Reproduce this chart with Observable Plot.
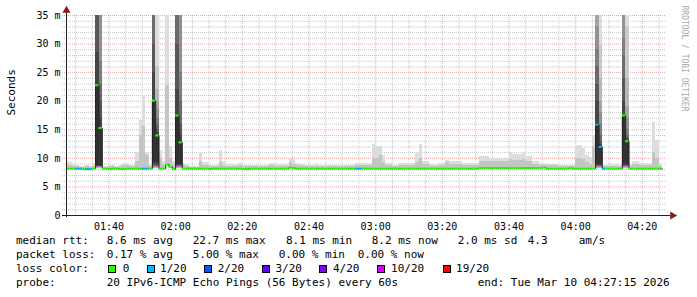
<!DOCTYPE html>
<html>
<head>
<meta charset="utf-8">
<script src="https://cdn.jsdelivr.net/npm/d3@7"></script>
<script src="https://cdn.jsdelivr.net/npm/@observablehq/plot@0.6"></script>
<style>
html,body{margin:0;padding:0;background:#fff;}
#wrap{position:relative;width:697px;height:297px;overflow:hidden;background:#fff;}
#wrap svg{display:block;position:absolute;left:0;top:0;}
.lg{position:absolute;font-family:"DejaVu Sans Mono",monospace;font-size:11px;line-height:14px;white-space:pre;color:#000;}
.bx{position:absolute;width:6px;height:6px;border:1px solid #000;}
</style>
</head>
<body>
<div id="wrap"></div>
<script>
// ---------- DATA ----------
// one column per minute, first column starts 01:27 (index 0), last 04:25
const median = [
  8.2, 8.2, 8.2, 8.2, 8.2, 8.1, 8.1, 8.1, 8.2, 22.8,
  15.3, 8.2, 8.2, 8.1, 8.2, 8.2, 8.1, 8.1, 8.2, 8.2,
  8.2, 8.2, 8.2, 8.2, 8.2, 8.2, 20.1, 14.0, 8.2, 8.2,
  8.9, 8.5, 8.1, 17.5, 12.8, 8.2, 8.2, 8.2, 8.2, 8.2,
  8.2, 8.2, 8.2, 8.1, 8.2, 8.2, 8.2, 8.2, 8.2, 8.2,
  8.2, 8.2, 8.2, 8.1, 8.1, 8.2, 8.2, 8.2, 8.2, 8.2,
  8.2, 8.2, 8.2, 8.2, 8.2, 8.2, 8.2, 8.4, 8.3, 8.2,
  8.2, 8.2, 8.2, 8.2, 8.2, 8.2, 8.2, 8.2, 8.2, 8.2,
  8.2, 8.2, 8.2, 8.2, 8.2, 8.2, 8.2, 8.2, 8.2, 8.2,
  8.2, 8.2, 8.2, 8.2, 8.2, 8.2, 8.2, 8.2, 8.2, 8.2,
  8.2, 8.2, 8.2, 8.2, 8.2, 8.2, 8.2, 8.2, 8.2, 8.2,
  8.2, 8.2, 8.2, 8.2, 8.2, 8.2, 8.2, 8.2, 8.2, 8.2,
  8.2, 8.2, 8.2, 8.2, 8.3, 8.3, 8.3, 8.3, 8.3, 8.3,
  8.3, 8.3, 8.3, 8.3, 8.3, 8.3, 8.3, 8.3, 8.3, 8.3,
  8.3, 8.3, 8.3, 8.4, 8.2, 8.2, 8.2, 8.2, 8.2, 8.2,
  8.2, 8.3, 8.2, 8.2, 8.2, 8.2, 8.2, 8.2, 8.2, 15.9,
  12.0, 8.2, 8.2, 8.2, 8.2, 8.2, 8.2, 17.5, 13.0, 8.2,
  8.2, 8.2, 8.2, 8.2, 8.2, 8.2, 8.2, 8.2, 8.2
];
// lost pings out of 20
const loss = [
  0,0,0,1,1,0,1,1,0,0,
  0,0,0,0,0,0,0,0,0,0,
  0,0,0,1,1,0,0,0,0,0,
  0,0,0,0,0,0,0,0,0,0,
  0,0,0,0,0,0,0,0,0,0,
  0,0,0,0,0,0,0,0,0,0,
  0,0,0,0,0,0,0,0,0,0,
  0,0,0,0,0,0,0,0,0,0,
  0,0,0,0,0,0,0,1,1,0,
  0,0,0,0,0,0,0,0,0,0,
  0,0,0,0,0,0,0,0,0,0,
  0,0,0,0,0,0,0,0,0,0,
  0,0,0,0,0,0,0,0,0,0,
  0,0,0,0,0,0,0,0,0,0,
  0,0,0,0,0,0,0,0,0,0,
  0,0,0,0,0,0,0,0,0,1,
  1,1,0,0,0,0,0,0,0,0,
  0,0,0,0,0,0,0,0,0
];
// slowest ping of each minute (top of light smoke)
const smokeTop = [
  9.5, 9.2, 8.9, 8.8, 8.6, 8.6, 8.8, 8.6, 9.0, 120,
  100, 8.6, 8.6, 8.8, 8.8, 8.6, 8.7, 9.1, 9.1, 8.7,
  8.8, 11.1, 16.6, 21.0, 11.1, 8.8, 110, 40, 11.4, 9.5,
  40, 12.0, 9.5, 100, 90, 9.1, 8.9, 8.6, 8.6, 8.6,
  10.8, 9.3, 9.3, 8.7, 8.7, 8.7, 11.3, 9.4, 9.0, 8.9,
  8.9, 8.9, 9.1, 8.7, 8.7, 8.7, 8.7, 8.7, 8.7, 8.7,
  8.7, 9.1, 9.1, 8.9, 8.9, 8.9, 8.9, 10.0, 9.8, 9.1,
  9.0, 9.0, 8.7, 8.7, 8.7, 8.9, 8.7, 8.7, 8.7, 8.7,
  8.7, 8.7, 8.8, 8.8, 8.8, 8.8, 8.8, 9.1, 9.1, 9.1,
  9.1, 9.1, 12.5, 12.0, 12.0, 10.5, 9.1, 9.1, 8.7, 8.7,
  9.1, 9.1, 9.1, 9.1, 9.1, 10.8, 12.5, 9.4, 9.4, 8.9,
  8.9, 8.9, 9.1, 9.1, 9.6, 9.4, 9.4, 9.4, 9.4, 9.1,
  9.1, 9.1, 9.1, 9.1, 10.3, 10.3, 10.3, 10.0, 10.0, 10.0,
  10.0, 10.0, 10.0, 11.1, 10.7, 10.7, 10.7, 11.1, 10.3, 10.3,
  9.4, 9.4, 9.1, 9.1, 9.0, 9.0, 9.0, 9.0, 8.7, 8.7,
  8.7, 8.7, 8.7, 12.2, 12.2, 11.7, 10.5, 10.2, 14.0, 80,
  40, 8.8, 8.8, 9.0, 9.0, 9.0, 8.8, 90, 40, 8.9,
  9.4, 9.4, 9.1, 9.1, 9.1, 9.1, 16.2, 13.1, 9.0
];
// upper bulk of the pings (top of the darker smoke band)
const smokeMid = [
  9.0, 8.8, 8.5, 8.5, 8.4, 8.4, 8.5, 8.4, 8.6, null,
  null, 8.4, 8.4, 8.5, 8.5, 8.4, 8.5, 8.7, 8.7, 8.5,
  8.5, 9.5, 14.0, 15.5, 10.5, 8.5, null, null, 10.0, 9.0,
  22.7, 10.0, 9.0, null, null, 8.7, 8.6, 8.4, 8.4, 8.4,
  9.5, 8.8, 8.8, 8.5, 8.5, 8.5, 9.2, 8.8, 8.6, 8.6,
  8.6, 8.6, 8.7, 8.5, 8.5, 8.5, 8.5, 8.5, 8.5, 8.5,
  8.5, 8.8, 8.8, 8.6, 8.6, 8.6, 8.6, 9.2, 9.0, 8.7,
  8.7, 8.6, 8.5, 8.5, 8.5, 8.6, 8.5, 8.5, 8.5, 8.5,
  8.5, 8.5, 8.6, 8.6, 8.6, 8.6, 8.6, 8.7, 8.7, 8.7,
  8.7, 8.7, 10.0, 10.0, 10.5, 9.3, 8.7, 8.7, 8.5, 8.5,
  8.7, 8.7, 8.7, 8.7, 8.7, 9.3, 10.0, 8.9, 8.9, 8.6,
  8.6, 8.6, 8.7, 8.7, 9.3, 9.0, 9.0, 9.0, 9.0, 8.7,
  8.7, 8.7, 8.7, 8.7, 9.5, 9.5, 9.5, 9.5, 9.5, 9.5,
  9.5, 9.5, 9.5, 9.8, 9.6, 9.6, 9.6, 9.8, 9.5, 9.5,
  9.0, 9.0, 8.8, 8.8, 8.7, 8.7, 8.7, 8.7, 8.5, 8.5,
  8.5, 8.5, 8.5, 10.0, 10.0, 9.8, 9.3, 9.0, 12.0, null,
  null, 8.5, 8.5, 8.6, 8.6, 8.6, 8.5, null, null, 8.6,
  8.9, 8.9, 8.7, 8.7, 8.7, 8.7, 11.0, 10.0, 8.6
];
// minutes with large spread: all 20 ping times (ms)
const spikeMinutes = ["01:36", "01:37", "01:53", "01:54", "02:00", "02:01", "04:06", "04:07", "04:14", "04:15"];
const spikePings = [
  [8.2, 8.3, 8.3, 8.4, 8.4, 8.5, 8.5, 8.6, 8.6, 8.7, 22.8, 28.5, 38, 42, 47, 55, 63, 75, 90, 120],
  [8.2, 8.3, 8.3, 8.4, 8.4, 8.5, 8.5, 8.6, 8.6, 8.7, 15.3, 17, 20, 23, 27, 38, 45, 60, 80, 100],
  [8.2, 8.3, 8.3, 8.4, 8.4, 8.5, 8.6, 8.7, 8.9, 9.2, 20.1, 25, 30, 37, 42, 50, 60, 70, 85, 110],
  [8.2, 8.3, 8.3, 8.4, 8.4, 8.5, 8.6, 8.7, 8.9, 9.3, 14.0, 14.5, 15, 16, 17, 18.5, 20, 22, 26, 40],
  [8.2, 8.3, 8.3, 8.4, 8.4, 8.5, 8.6, 8.7, 8.8, 9.0, 17.5, 22, 30, 38, 45, 52, 60, 70, 85, 100],
  [8.2, 8.3, 8.3, 8.4, 8.4, 8.5, 8.6, 8.7, 8.8, 9.0, 12.8, 14, 16, 20, 25, 37, 45, 55, 70, 90],
  [8.2, 8.3, 8.3, 8.4, 8.4, 8.5, 8.6, 8.7, 8.8, 9.0, 15.9, 20, 23, 26, 29, 33, 40, 50, 65, 80],
  [8.2, 8.3, 8.3, 8.4, 8.4, 8.5, 8.6, 8.7, 8.8, 9.0, 12.0, 12.5, 13, 14, 16, 18, 20, 24, 30, 40],
  [8.2, 8.3, 8.3, 8.4, 8.4, 8.5, 8.6, 8.7, 8.8, 9.0, 17.5, 20, 24, 28, 31, 38, 45, 55, 70, 90],
  [8.2, 8.3, 8.3, 8.4, 8.4, 8.5, 8.6, 8.7, 8.8, 9.0, 13.0, 13.3, 13.6, 14, 15, 17, 19, 24, 33, 40]
];
const lossLevels = [0, 1, 2, 3, 4, 10, 19];
const lossLabels = ["0", "1/20", "2/20", "3/20", "4/20", "10/20", "19/20"];
const lossColors = ["#26ff00", "#00b8ff", "#0059ff", "#5e00ff", "#7e00ff", "#dd00ff", "#ff0000"];
const yTicks = [0, 5, 10, 15, 20, 25, 30, 35];
const yTickLabels = ["0", "5 m", "10 m", "15 m", "20 m", "25 m", "30 m", "35 m"];
const xTickLabels = ["01:40", "02:00", "02:20", "02:40", "03:00", "03:20", "03:40", "04:00", "04:20"];
const rttStats = ["8.6 ms avg", "22.7 ms max", "8.1 ms min", "8.2 ms now", "2.0 ms sd", "4.3", "am/s"];
const lossStats = ["0.17 % avg", "5.00 % max", "0.00 % min", "0.00 % now"];
const probeText = "20 IPv6-ICMP Echo Pings (56 Bytes) every 60s";
const endText = "end: Tue Mar 10 04:27:15 2026";
const yTitle = "Seconds";
const watermark = "RRDTOOL / TOBI OETIKER";

// ---------- BUILD ----------
const T = (h, m, s = 0) => new Date(Date.UTC(2026, 2, 10, h, m, s));
const tStart = T(1, 27, 15), tEnd = T(4, 27, 15);
const colStart = i => T(1, 27 + i);
const hm = s => { const [h, m] = s.split(":").map(Number); return [h, m]; };
const minuteIndex = s => { const [h, m] = hm(s); return h * 60 + m - 87; };
const spikeMap = new Map(spikeMinutes.map((s, k) => [minuteIndex(s), spikePings[k]]));
const lossColor = l => { let c = lossColors[0]; lossLevels.forEach((lv, k) => { if (l >= lv) c = lossColors[k]; }); return c; };

const cols = median.map((m, i) => ({i, x1: colStart(i), x2: colStart(i + 1), med: m, color: lossColor(loss[i]), top: smokeTop[i], mid: smokeMid[i]}));
const plain = cols.filter(c => !spikeMap.has(c.i));
const lightBand = plain.map(c => ({x1: c.x1, x2: c.x2, y1: c.med, y2: c.top}));
const midBand = plain.filter(c => c.mid != null && c.mid > c.med).map(c => ({x1: c.x1, x2: c.x2, y1: c.med, y2: c.mid}));
const smokeBands = [];
for (const [i, p] of spikeMap) {
  const s = [...p].sort((a, b) => a - b), n = s.length, half = n / 2;
  for (let b = 1, t = n; t > b; b++, t--) {
    const g = Math.floor(190 / half * (half - b)) + 50;
    smokeBands.push({x1: colStart(i), x2: colStart(i + 1), y1: s[b - 1], y2: s[t - 1], fill: `rgb(${g},${g},${g})`, order: b});
  }
}
smokeBands.sort((a, b) => a.order - b.order);
const lineRows = cols.map(c => ({t: c.x1, v: c.med}));
lineRows.push({t: colStart(cols.length), v: median[median.length - 1]});

const xMajor = xTickLabels.map(s => { const [h, m] = hm(s); return T(h, m); });
const xLabelMap = new Map(xMajor.map((d, k) => [+d, xTickLabels[k]]));
const xMinor = d3.utcMinute.every(5).range(tStart, tEnd).filter(d => !xLabelMap.has(+d));
const yLabelMap = new Map(yTicks.map((v, k) => [v, yTickLabels[k]]));
const yMinor = d3.range(1, 36).filter(v => v % 5 !== 0);

const gridC = "rgb(143,143,143)", mgridC = "rgb(222,79,79)", axisC = "#1f1f1f", arrowC = "#801f1f";

const svg = Plot.plot({
  width: 697, height: 232,
  marginLeft: 66, marginRight: 31, marginTop: 15, marginBottom: 17,
  style: {fontFamily: "'DejaVu Sans Mono', monospace", fontSize: "10px", color: "#000", background: "transparent", overflow: "visible"},
  x: {type: "utc", domain: [tStart, tEnd]},
  y: {domain: [0, 35]},
  color: {type: "identity"},
  marks: [
    Plot.ruleX(xMinor, {stroke: gridC, strokeOpacity: 0.5, strokeDasharray: "1,1", insetBottom: -2}),
    Plot.ruleY(yMinor, {stroke: gridC, strokeOpacity: 0.5, strokeDasharray: "1,1", insetLeft: -4}),
    Plot.ruleX(xMajor, {stroke: mgridC, strokeOpacity: 0.5, strokeDasharray: "1,1", insetBottom: -2}),
    Plot.ruleY(yTicks.filter(v => v > 0), {stroke: mgridC, strokeOpacity: 0.5, strokeDasharray: "1,1", insetLeft: -4}),
    Plot.rect(lightBand, {x1: "x1", x2: "x2", y1: "y1", y2: "y2", fill: "#dddddd", clip: true, shapeRendering: "crispEdges"}),
    Plot.rect(midBand, {x1: "x1", x2: "x2", y1: "y1", y2: "y2", fill: "#c4c4c4", clip: true, shapeRendering: "crispEdges"}),
    Plot.rect(smokeBands, {x1: "x1", x2: "x2", y1: "y1", y2: "y2", fill: "fill", clip: true, shapeRendering: "crispEdges"}),
    Plot.line(lineRows, {x: "t", y: "v", curve: "step-after", stroke: "#202020", strokeWidth: 1, clip: true}),
    Plot.ruleY(cols, {x1: "x1", x2: "x2", y: "med", stroke: "color", strokeWidth: 2, clip: true}),
    Plot.ruleY([0], {stroke: axisC, insetLeft: -4, insetRight: -4}),
    Plot.ruleX([tStart], {stroke: axisC, insetTop: -5, insetBottom: -2}),
    Plot.dot([{t: tStart, v: 35}], {x: "t", y: "v", symbol: "triangle", r: 3, fill: arrowC, stroke: "none", dy: -5}),
    Plot.dot([{t: tEnd, v: 0}], {x: "t", y: "v", symbol: "triangle", r: 3, fill: arrowC, stroke: "none", rotate: 90, dx: 6}),
    Plot.axisX({ticks: xMajor, tickFormat: d => xLabelMap.get(+d), tickSize: 0, tickPadding: 7, label: null}),
    Plot.axisY({ticks: yTicks, tickFormat: d => yLabelMap.get(d), tickSize: 0, tickPadding: 6, label: null}),
    Plot.text([yTitle], {frameAnchor: "left", text: d => d, rotate: -90, dx: -55, fontSize: 11}),
    Plot.text([watermark], {frameAnchor: "top-right", text: d => d, rotate: 90, textAnchor: "start", dx: 21, dy: -10, fontSize: 8, fill: "#a8a8a8"})
  ]
});
const wrap = document.getElementById("wrap");
wrap.appendChild(svg);

// ---------- LEGEND ----------
const addText = (txt, left, top) => { const d = document.createElement("div"); d.className = "lg"; d.textContent = txt; d.style.left = left + "px"; d.style.top = top + "px"; wrap.appendChild(d); };
const rowTop = [234.2, 248.2, 262.2, 276.2];
addText("median rtt:", 16, rowTop[0]);
[106.7, 192.7, 286, 371.7, 457.7, 527.7, 578.7].forEach((x, k) => addText(rttStats[k], x, rowTop[0]));
addText("packet loss:", 16, rowTop[1]);
[106.7, 192.7, 278.7, 357.7].forEach((x, k) => addText(lossStats[k], x, rowTop[1]));
addText("loss color:", 16, rowTop[2]);
const boxX = [108, 146.5, 204, 261.5, 319, 377, 442.5];
const labX = [122.7, 160.1, 217.7, 275.4, 333, 391.1, 456.1];
lossLabels.forEach((lab, k) => {
  const b = document.createElement("div"); b.className = "bx"; b.style.left = boxX[k] + "px"; b.style.top = "265px"; b.style.background = lossColors[k]; wrap.appendChild(b);
  addText(lab, labX[k], rowTop[2]);
});
addText("probe:", 16, rowTop[3]);
addText(probeText, 106.7, rowTop[3]);
addText(endText, 477.7, rowTop[3]);
</script>
</body>
</html>
